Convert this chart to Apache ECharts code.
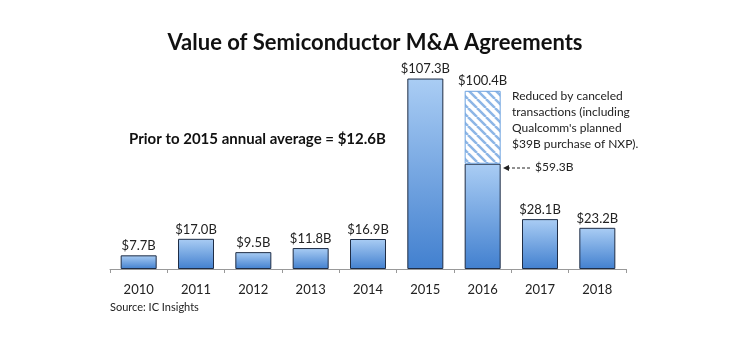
<!DOCTYPE html>
<html>
<head>
<meta charset="utf-8">
<script src="https://cdn.jsdelivr.net/npm/echarts@6/dist/echarts.min.js"></script>
<style>
  html, body { margin: 0; padding: 0; background: #fff; }
  #chart { width: 750px; height: 351px; }
</style>
</head>
<body>
<div id="chart"></div>
<script>
const years = ['2010', '2011', '2012', '2013', '2014', '2015', '2016', '2017', '2018']
const values = [7.7, 17.0, 9.5, 11.8, 16.9, 107.3, 59.3, 28.1, 23.2]
// 2016 announced total before the canceled deals were taken out
const announced2016 = 100.4
const canceled = years.map((y, i) => (y === '2016' ? +(announced2016 - values[i]).toFixed(1) : null))

const font = 'Lato, "Open Sans", sans-serif'

// diagonal hatch for the canceled part
function hatch() {
  const c = document.createElement('canvas')
  c.width = 9
  c.height = 9
  const ctx = c.getContext('2d')
  ctx.fillStyle = '#ffffff'
  ctx.fillRect(0, 0, 9, 9)
  ctx.strokeStyle = '#8db6e6'
  ctx.lineWidth = 2.5
  ctx.beginPath()
  for (let k = -9; k <= 9; k += 9) {
    ctx.moveTo(k, 0)
    ctx.lineTo(k + 9, 9)
  }
  ctx.stroke()
  return c
}

const barColor = new echarts.graphic.LinearGradient(0, 0, 0, 1, [
  { offset: 0, color: '#aacdf4' },
  { offset: 1, color: '#4280cf' }
])

const chart = echarts.init(document.getElementById('chart'))
chart.setOption({
  animation: false,
  title: {
    text: 'Value of Semiconductor M&A Agreements',
    left: 'center',
    top: 27,
    textStyle: { fontFamily: font, fontSize: 22, fontWeight: 'bold', color: '#111' }
  },
  grid: { left: 110, right: 124, top: 56, bottom: 82 },
  xAxis: {
    type: 'category',
    data: years,
    axisLine: { lineStyle: { color: '#999', width: 1 } },
    axisTick: { show: true, inside: false, length: 4, lineStyle: { color: '#999' } },
    axisLabel: { fontFamily: font, fontSize: 13, color: '#222', margin: 14 }
  },
  yAxis: {
    type: 'value',
    min: 0,
    max: 120,
    show: false,
    splitLine: { show: false }
  },
  series: [
    {
      type: 'bar',
      stack: 'total',
      data: values,
      barWidth: 36,
      itemStyle: { color: barColor, borderColor: '#1f2d45', borderWidth: 1 },
      label: {
        show: true,
        position: 'top',
        distance: 3,
        fontFamily: font,
        fontSize: 13,
        color: '#222',
        formatter: p => (canceled[p.dataIndex] ? '' : '$' + p.value.toFixed(1) + 'B')
      }
    },
    {
      type: 'bar',
      stack: 'total',
      data: canceled,
      barWidth: 36,
      itemStyle: { color: { image: hatch(), repeat: 'repeat' }, borderColor: '#6ea3e0', borderWidth: 1 },
      label: {
        show: true,
        position: 'top',
        distance: 3,
        fontFamily: font,
        fontSize: 13,
        color: '#222',
        formatter: () => '$' + announced2016.toFixed(1) + 'B'
      }
    }
  ],
  graphic: [
    {
      type: 'text',
      left: 512,
      top: 88,
      style: {
        text: 'Reduced by canceled\ntransactions (including\nQualcomm\'s planned\n$39B purchase of NXP).',
        font: '12px ' + font,
        fill: '#222',
        lineHeight: 15.9
      }
    },
    {
      type: 'text',
      left: 535,
      top: 161,
      style: { text: '$59.3B', font: '12px ' + font, fill: '#222' }
    },
    {
      type: 'line',
      shape: { x1: 507, y1: 168, x2: 532, y2: 168 },
      style: { stroke: '#222', lineWidth: 1, lineDash: [3, 2] }
    },
    {
      type: 'polygon',
      shape: { points: [[503, 168], [509, 165], [509, 171]] },
      style: { fill: '#222' }
    },
    {
      type: 'text',
      left: 129,
      top: 132,
      style: { text: 'Prior to 2015 annual average = $12.6B', font: 'bold 15px ' + font, fill: '#111' }
    },
    {
      type: 'text',
      left: 110,
      top: 302,
      style: { text: 'Source: IC Insights', font: '11px ' + font, fill: '#222' }
    }
  ]
})
</script>
</body>
</html>
